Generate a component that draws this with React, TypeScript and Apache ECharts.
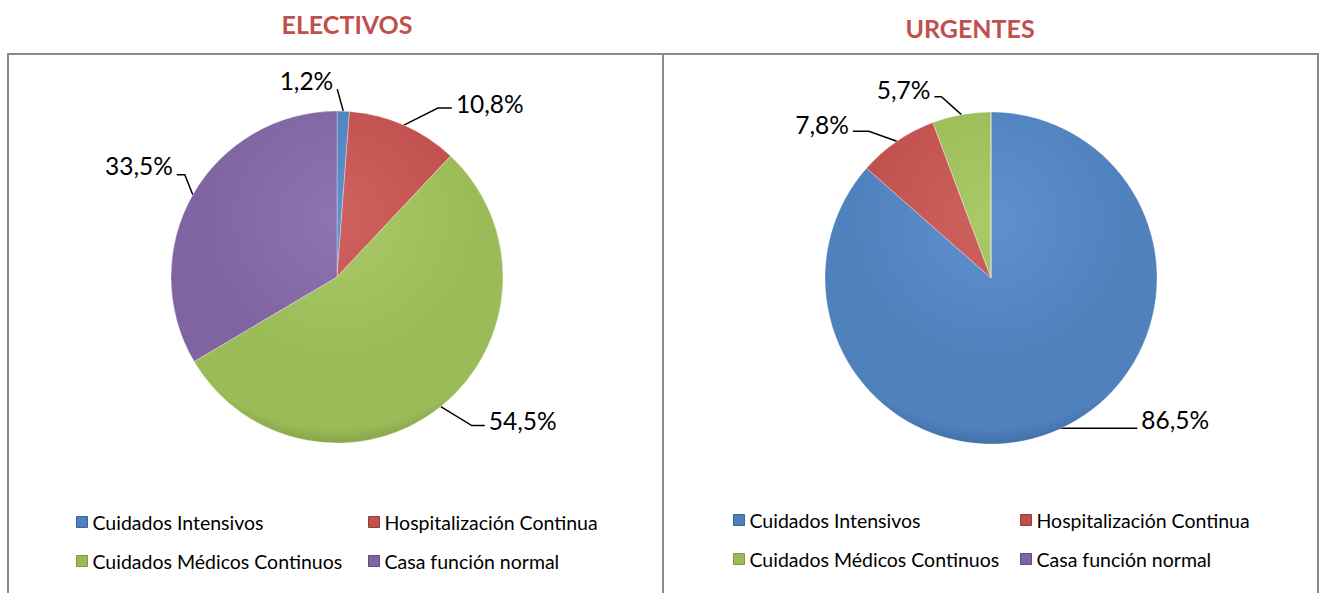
import React, { useEffect, useRef } from "react";
import * as echarts from "echarts";

const categories = [
  "Cuidados Intensivos",
  "Hospitalización Continua",
  "Cuidados Médicos Continuos",
  "Casa función normal",
];
const electivosValues = [1.2, 10.8, 54.5, 33.5];
const urgentesValues = [86.5, 7.8, 5.7, 0];
const chartTitles = ["ELECTIVOS", "URGENTES"];

// leader-line styling per label: [dx, dy, horizontal length, text vertical shift]
const leaderStyles = [
  [
    [-6, -22, 0, -9],
    [34, -17, 14, -5],
    [31, 19, 13, -5],
    [-8, -20, -8, -9],
  ],
  [
    [0, -1, 78, -9],
    [-28, -10, -16, -7],
    [-20, -18, -7, -7],
    [0, 0, 0, 0],
  ],
];

const baseColors = ["#4F81BD", "#C0504D", "#9BBB59", "#8064A2"];
const lightColors = ["#5F91CF", "#CF615E", "#AACA68", "#8F74B2"];
const darkColors = ["#3A659E", "#9A3A38", "#7C9A3F", "#634C85"];

const FONT = "Lato, 'Open Sans', sans-serif";

const fmt = (v: number) => v.toFixed(1).replace(".", ",") + "%";

function sliceColor(i: number, cx: number, cy: number, r: number) {
  return {
    type: "radial",
    x: cx,
    y: cy - r * 0.35,
    r: r * 1.4,
    global: true,
    colorStops: [
      { offset: 0, color: lightColors[i] },
      { offset: 0.6, color: baseColors[i] },
      { offset: 0.9, color: baseColors[i] },
      { offset: 1, color: darkColors[i] },
    ],
  };
}

export default function App() {
  const ref = useRef<HTMLDivElement>(null);
  useEffect(() => {
    if (!ref.current) return;
    const chart = echarts.init(ref.current, null, { renderer: "svg" });
    const R = 166;
    const centers = [
      [337, 277],
      [991, 278],
    ];

    const mkData = (vals: number[], cIdx: number) =>
      vals.map((v, i) => {
        const item: any = {
          name: categories[i],
          value: v,
          itemStyle: {
            color: sliceColor(i, centers[cIdx][0], centers[cIdx][1], R),
          },
        };
        if (v === 0) {
          item.label = { show: false };
          item.labelLine = { show: false };
        }
        return item;
      });

    const mkLayout = (sIdx: number) => (params: any) => {
      const pts = params.labelLinePoints;
      if (!pts || !pts.length) return {};
      const st = leaderStyles[sIdx][params.dataIndex];
      if (!st) return {};
      const p1 = pts[0];
      const p2 = [p1[0] + st[0], p1[1] + st[1]];
      const p3 = [p2[0] + st[2], p2[1]];
      const side = st[2] !== 0 ? Math.sign(st[2]) : Math.sign(st[0]) || 1;
      return {
        x: p3[0] + side * 4,
        y: p3[1] + st[3],
        align: side > 0 ? "left" : "right",
        verticalAlign: "middle",
        labelLinePoints: [p1, p2, p3],
      };
    };

    const commonSeries = {
      type: "pie",
      radius: R,
      startAngle: 90,
      clockwise: true,
      avoidLabelOverlap: false,
      label: {
        show: true,
        position: "outside",
        formatter: (p: any) => fmt(p.value),
        color: "#000",
        fontFamily: FONT,
        fontSize: 24.5,
      },
      labelLine: {
        show: true,
        length: 20,
        length2: 10,
        lineStyle: { color: "#000", width: 1.5 },
      },
      itemStyle: { borderColor: "rgba(255,255,255,0.3)", borderWidth: 1 },
      emphasis: { disabled: true },
    };

    const legendPos = [
      [
        [76, 512],
        [368, 512],
        [76, 551],
        [368, 551],
      ],
      [
        [733, 510],
        [1020, 510],
        [733, 549],
        [1020, 549],
      ],
    ];
    const legends: any[] = [];
    legendPos.forEach((panel) =>
      panel.forEach((p, i) => {
        legends.push({
          left: p[0],
          top: p[1],
          padding: 0,
          orient: "horizontal",
          selectedMode: false,
          itemWidth: 11,
          itemHeight: 11,
          icon: "rect",
          textStyle: { fontFamily: FONT, fontSize: 19.5, color: "#000" },
          data: [
            {
              name: categories[i],
              itemStyle: {
                color: baseColors[i],
                borderColor: darkColors[i],
                borderWidth: 1,
              },
            },
          ],
        });
      })
    );

    const titleStyle = {
      fontFamily: FONT,
      fontSize: 25,
      fontWeight: "bold",
      color: "#C0504D",
    };

    chart.setOption({
      animation: false,
      backgroundColor: "#fff",
      title: [
        { text: chartTitles[0], left: 342, top: 6, textAlign: "center", textStyle: titleStyle },
        { text: chartTitles[1], left: 965, top: 10, textAlign: "center", textStyle: titleStyle },
      ],
      legend: legends,
      graphic: [
        {
          type: "rect",
          shape: { x: 8, y: 54, width: 655, height: 560 },
          style: { fill: "none", stroke: "#8A8A8A", lineWidth: 2 },
          silent: true,
        },
        {
          type: "rect",
          shape: { x: 663, y: 54, width: 655, height: 560 },
          style: { fill: "none", stroke: "#8A8A8A", lineWidth: 2 },
          silent: true,
        },
      ],
      series: [
        {
          ...commonSeries,
          name: chartTitles[0],
          center: centers[0],
          data: mkData(electivosValues, 0),
          labelLayout: mkLayout(0),
        },
        {
          ...commonSeries,
          name: chartTitles[1],
          center: centers[1],
          data: mkData(urgentesValues, 1),
          labelLayout: mkLayout(1),
        },
      ],
    });
    return () => chart.dispose();
  }, []);
  return (
    <div
      ref={ref}
      style={{ position: "absolute", left: 0, top: 0, width: 1322, height: 593 }}
    />
  );
}
